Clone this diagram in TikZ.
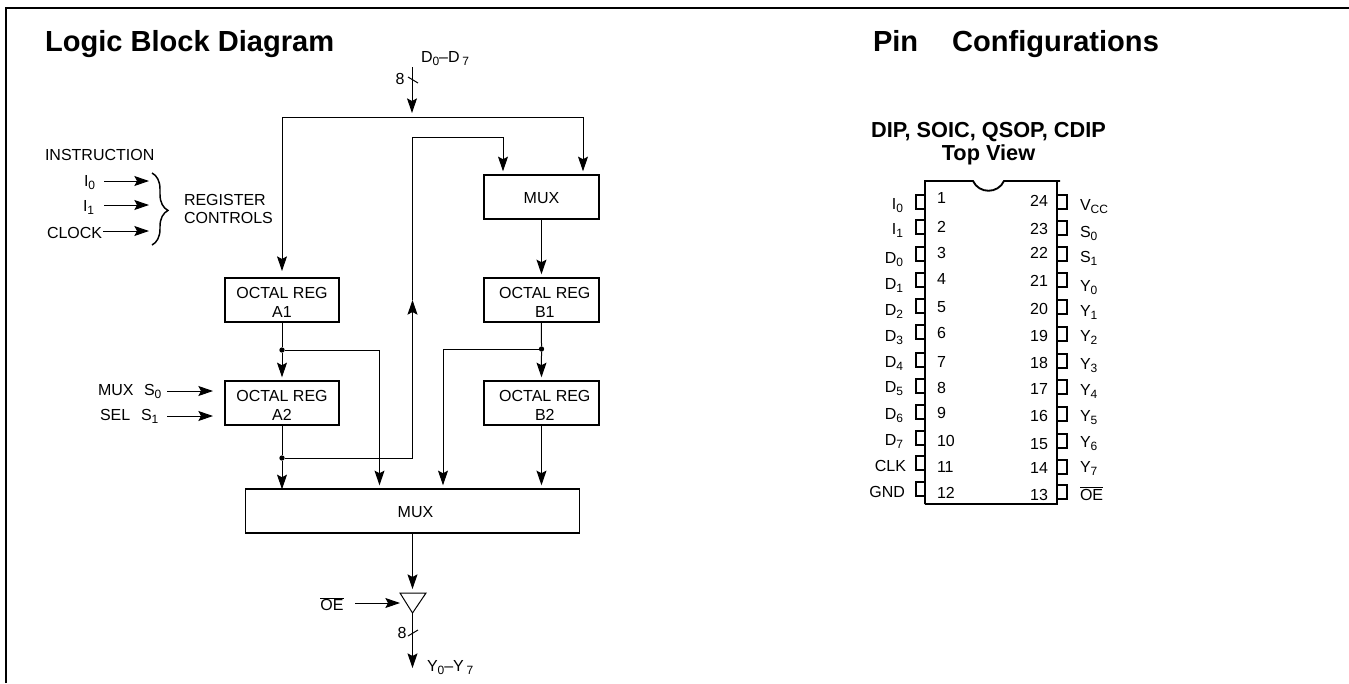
\documentclass[tikz,border=0pt]{standalone}
\usepackage{fontspec}
\setmainfont{Liberation Sans}
\usepackage{tikz}
\usetikzlibrary{arrows.meta,positioning,decorations.pathreplacing}
\newcommand{\low}[1]{\raisebox{-2.6pt}{\fontsize{9}{9}\selectfont #1}}
\newcommand{\barOE}{$\overline{\mbox{OE}}$}
\newcommand{\regtxt}[1]{\rule{0pt}{12pt}OCTAL REG\\#1}

\begin{document}
\begin{tikzpicture}[x=0.75pt, y=-0.75pt,
    every node/.style={font=\fontsize{12}{14}\selectfont, inner sep=0pt, outer sep=0pt},
    box/.style={rectangle, draw, line width=1.4pt, align=center,
                minimum width=86pt, minimum height=32.6pt},
    arr/.style={-{Stealth[length=11pt, width=7.5pt, inset=2pt]}, line width=0.75pt, shorten >=3pt},
    arrfree/.style={arr, shorten >=0pt},
    wire/.style={line width=0.75pt},
    dot/.style={circle, fill, minimum size=4pt},
    pin/.style={line width=1.5pt},
    lefttxt/.style={anchor=mid east, yshift=-1.2pt},
    righttxt/.style={anchor=mid west, yshift=-1.2pt},
    heading/.style={anchor=base west, font=\bfseries\fontsize{21.8}{24}\selectfont}]

    \useasboundingbox (0,0) rectangle (1349,683);

    %% Frame
    \coordinate (frameBL) at (6,683);
    \coordinate (frameTL) at (6,8);
    \coordinate (frameTR) at (1349,8);
    \draw[line width=1.4pt] (frameBL) -- (frameTL) -- (frameTR);

    %% Headings
    \node[heading] (titleL) at (45,51) {Logic Block Diagram};
    \node[heading] (titleR) at (873,51) {Pin\hspace{25.5pt}Configurations};

    %% Registers
    \node[box] (regA1) at (282,300) {\regtxt{A1}};
    \node[box, below=44.65pt of regA1] (regA2) {\regtxt{A2}};
    \node[box, right=108.6pt of regA1, xshift=0pt] (regB1) {\hspace*{5pt}\regtxt{\hspace*{5pt}B1}};
    \node[box, below=44.65pt of regB1] (regB2) {\hspace*{5pt}\regtxt{\hspace*{5pt}B2}};
    \node[box, above=44.65pt of regB1] (muxT) {\rule{0pt}{9.6pt}MUX};
    \node[box, minimum width=250.5pt] (muxB) at (412.5,511) {\rule{0pt}{9.6pt}\hspace*{4.5pt}MUX};

    %% Input bus
    \coordinate (inTop) at (412,67);
    \coordinate (busMid) at (412,117);
    \coordinate (busL) at (regA1.north |- busMid);
    \coordinate (busR) at (583,117);
    \draw[arrfree] (inTop) -- (412,113);
    \draw[wire] (busL) -- (busR);
    \draw[arrfree] (busL) -- (282,271);
    \draw[arr] (busR) -- (busR |- muxT.north);
    \node[righttxt] (inLabel) at (421,57) {D\low{0}--D\,\low{7}};
    \node (inEight) at (400,79) {8};
    \coordinate (inTickA) at (408,77);
    \coordinate (inTickB) at (418,83);
    \draw[wire] (inTickA) -- (inTickB);

    %% Register paths
    \draw[arr] (muxT.south) -- (regB1.north);
    \node[dot] (dotA1) at (282,350) {};
    \node[dot] (dotA2) at (282,458) {};
    \node[dot] (dotB1) at (541.5,349) {};
    \draw[wire] (regA1.south) -- (dotA1);
    \draw[arr] (dotA1) -- (regA2.north);
    \draw[wire] (regA2.south) -- (dotA2);
    \draw[arrfree] (dotA2) -- (dotA2 |- muxB.north);
    \draw[wire] (regB1.south) -- (dotB1);
    \draw[arr] (dotB1) -- (regB2.north);
    \draw[arr] (regB2.south) -- (regB2.south |- muxB.north);

    %% Cross paths
    \coordinate (crossA) at (379.5,350);
    \coordinate (crossB) at (443,349);
    \draw[arr] (dotA1) -- (crossA) -- (crossA |- muxB.north);
    \draw[arr] (dotB1) -- (crossB) -- (crossB |- muxB.north);
    \coordinate (feedCorner) at (412.5,458);
    \coordinate (feedTip) at (412.5,300);
    \coordinate (feedTop) at (412.5,137);
    \coordinate (feedEnd) at (503,137);
    \draw[arrfree] (dotA2) -- (feedCorner) -- (feedTip);
    \draw[wire] (feedTip) -- (feedTop) -- (feedEnd);
    \draw[arr] (feedEnd) -- (feedEnd |- muxT.north);

    %% Output buffer
    \coordinate (triL) at (400,593);
    \coordinate (triR) at (426,593);
    \coordinate (triB) at (412.5,613);
    \coordinate (triT) at (412.5,593);
    \coordinate (outEnd) at (412.5,668);
    \draw[wire] (triL) -- (triR) -- (triB) -- cycle;
    \draw[arr] (muxB.south) -- (triT);
    \draw[arrfree] (triB) -- (outEnd);
    \node (outEight) at (402,633) {8};
    \coordinate (outTickA) at (408,636);
    \coordinate (outTickB) at (418,630);
    \draw[wire] (outTickA) -- (outTickB);
    \node[righttxt] (outLabel) at (427,666) {Y\low{0}--Y\,\low{7}};
    \node (oeLabel) at (332,604) {\barOE};
    \coordinate (oeStart) at (355,603);
    \coordinate (oeEnd) at (400,603);
    \draw[arrfree] (oeStart) -- (oeEnd);

    %% Mux select
    \node[righttxt] (muxText) at (98,390) {MUX};
    \node[righttxt] (selText) at (100,415) {SEL};
    \node[righttxt] (selS0) at (144,390) {S\low{0}};
    \node[righttxt] (selS1) at (141,415) {S\low{1}};
    \coordinate (selA) at (167,391);
    \coordinate (selB) at (167,416);
    \draw[arrfree] (selA) -- (213,391);
    \draw[arrfree] (selB) -- (213,416);

    %% Register controls
    \node[righttxt] (instr) at (45,155) {INSTRUCTION};
    \node[righttxt] (ctlI0) at (84,181) {I\low{0}};
    \node[righttxt] (ctlI1) at (83,206) {I\low{1}};
    \node[righttxt] (ctlCk) at (47,233) {CLOCK};
    \coordinate (ctlA) at (104,181);
    \coordinate (ctlB) at (104,205);
    \coordinate (ctlC) at (103,231);
    \draw[arrfree] (ctlA) -- (149,181);
    \draw[arrfree] (ctlB) -- (149,205);
    \draw[arrfree] (ctlC) -- (149,231);
    \coordinate (braceT) at (152,173);
    \coordinate (braceB) at (152,245);
    \draw[line width=1.1pt, decorate, decoration={brace, amplitude=12pt, aspect=0.52}]
      (braceT) -- (braceB);
    \node[anchor=west, align=left] (ctlText) at (184,209) {REGISTER\\CONTROLS};

    %% Pin configuration
    \node[align=center, font=\bfseries\fontsize{16.3}{17.5}\selectfont] (pkg) at (988.5,143.5)
      {DIP, SOIC, QSOP, CDIP\\Top View};
    \coordinate (chipTL) at (925,181);
    \coordinate (chipTR) at (1060,181);
    \coordinate (chipBL) at (925,504);
    \coordinate (chipBR) at (1057,504);
    \coordinate (chipRT) at (1057,181);
    \coordinate (notchL) at (973,181);
    \coordinate (notchR) at (1004,181);
    \draw[line width=1.4pt] (chipBL) -- (chipTL) -- (notchL)
      .. controls (979,194) and (998,194) .. (notchR) -- (chipTR);
    \draw[line width=1.4pt] (chipRT) -- (chipBR) -- (chipBL);

    %% Left pins: number, pin centre, number y, label y, label
    \foreach \n/\py/\ny/\ly/\txt in {
        1/201.5/198/204/I\low{0}, 2/227/227/229/I\low{1}, 3/254/253/258/D\low{0},
        4/279.5/279/284/D\low{1}, 5/306/307/310/D\low{2}, 6/332/333/336/D\low{3},
        7/359.5/362/362/D\low{4}, 8/385.5/388/387/D\low{5}, 9/412/413/414/D\low{6},
        10/438/441/440/D\low{7}, 11/463/467/466/CLK\hspace*{-2.25pt}, 12/489/493/492/GND\hspace*{-1.5pt}} {
      \draw[pin] (925,\py-7) -- (916,\py-7) -- (916,\py+7) -- (925,\py+7);
      \node[righttxt] (numL\n) at (937,\ny) {\n};
      \node[lefttxt] (txtL\n) at (903,\ly) {\txt};
    }

    %% Right pins
    \foreach \n/\py/\ny/\ly/\txt in {
        24/201.5/201/205/V\low{CC}, 23/227.5/229/232/S\low{0}, 22/254/253/257/S\low{1},
        21/280/281/286/Y\low{0}, 20/307/309/311/Y\low{1}, 19/334/336/336/Y\low{2},
        18/361/363/364/Y\low{3}, 17/387/389/390/Y\low{4}, 16/414/416/416/Y\low{5},
        15/441/444/442/Y\low{6}, 14/467/468/467/Y\low{7}, 13/492/495/495/\barOE} {
      \draw[pin] (1057,\py-7) -- (1067,\py-7) -- (1067,\py+7) -- (1057,\py+7);
      \node[lefttxt] (numR\n) at (1048,\ny) {\n};
      \node[righttxt] (txtR\n) at (1080,\ly) {\txt};
    }
  \end{tikzpicture}
\end{document}
